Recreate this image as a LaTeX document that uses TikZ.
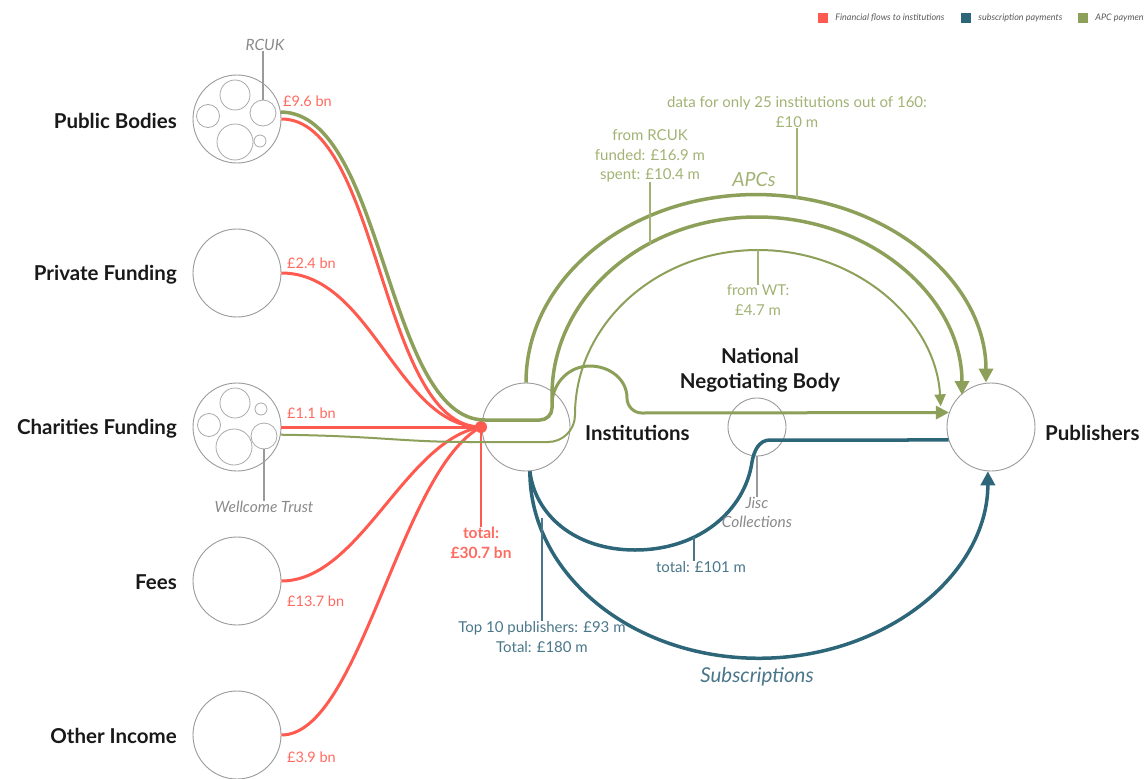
\documentclass[tikz,border=0pt]{standalone}
\usepackage{fontspec}
\setmainfont{Lato}
\usetikzlibrary{arrows.meta,positioning}

\definecolor{flowred}{HTML}{FF5A4F}
\definecolor{subblue}{HTML}{2D6579}
\definecolor{apcgreen}{HTML}{8DA05A}
\definecolor{apctext}{HTML}{A2B274}
\definecolor{bluetext}{HTML}{4A7689}
\definecolor{redtext}{HTML}{FF6A60}
\definecolor{ringgray}{HTML}{9A9A9A}
\definecolor{notegray}{HTML}{8A8A8A}

\tikzset{
    source/.style={circle, draw=ringgray, line width=0.9pt, minimum size=88pt, inner sep=0pt},
    part/.style={circle, draw=ringgray!85, line width=0.8pt, minimum size=#1, inner sep=0pt},
    head/.style={font=\fontsize{20.5}{25}\selectfont\bfseries, text=black!90, inner sep=0pt},
    amount/.style={font=\fontsize{14.5}{17}\selectfont, text=redtext, inner sep=0pt},
    note/.style={font=\fontsize{15}{19.5}\selectfont, align=center, inner sep=0pt},
    who/.style={font=\fontsize{15.5}{19}\selectfont\itshape, text=notegray, align=center, inner sep=0pt},
    flow/.style={draw=flowred, line width=3pt},
    apc/.style={draw=apcgreen, line width=3.5pt},
    subs/.style={draw=subblue, line width=3.5pt},
    tip/.style={-{Triangle[length=14pt,width=14pt]}},
    tick/.style={line width=1.2pt},
    legbox/.style={minimum size=10pt, inner sep=0pt},
    legtext/.style={font=\fontsize{9}{10}\selectfont\itshape, text=black!65, inner sep=0pt}
}

\begin{document}
\begin{tikzpicture}[x=1pt, y=-1pt]
    \useasboundingbox (0,0) rectangle (1144,779);

    \node[legbox, fill=flowred] (legred) at (823,18) {};
    \node[legtext, right=7pt of legred] {Financial flows to institutions};
    \node[legbox, fill=subblue] (legblue) at (966,18) {};
    \node[legtext, right=7pt of legblue] {subscription payments};
    \node[legbox, fill=apcgreen] (leggreen) at (1083,18) {};
    \node[legtext, right=7pt of leggreen] {APC payments};

    \node[source] (pb) at (237,119) {};
    \node[source] (pf) at (237,273) {};
    \node[source] (cf) at (237,427) {};
    \node[source] (fees) at (237,581) {};
    \node[source] (oi) at (237,735) {};

    \node[part=30pt] (pb1) at (235,95) {};
    \node[part=23pt] (pb2) at (208,116) {};
    \node[part=26pt] (pb3) at (263,113) {};
    \node[part=36pt] (pb4) at (235,142) {};
    \node[part=12pt] (pb5) at (260,141) {};

    \node[part=30pt] (cf1) at (235,403) {};
    \node[part=12pt] (cf2) at (261,409) {};
    \node[part=23pt] (cf3) at (209,425) {};
    \node[part=26pt] (cf4) at (264,436) {};
    \node[part=36pt] (cf5) at (234,447) {};

    \node[head, anchor=east] at (177,121) {Public Bodies};
    \node[head, anchor=east] at (177,275) {Private Funding};
    \node[head, anchor=east] at (177,429) {Charities Funding};
    \node[head, anchor=east] at (177,582) {Fees};
    \node[head, anchor=east] at (177,736) {Other Income};

    \node[who] (rcuk) at (265,45) {RCUK};
    \draw[ringgray, tick] (pb3.north |- rcuk.south) -- (pb3.north);
    \node[who] (wellcome) at (264,507) {Wellcome Trust};
    \draw[ringgray, tick] (cf4.south) -- (cf4.south |- wellcome.north);

    \node[amount, anchor=west] at (283,101) {£9.6 bn};
    \node[amount, anchor=west] at (287,263) {£2.4 bn};
    \node[amount, anchor=west] at (287,413) {£1.1 bn};
    \node[amount, anchor=west] at (287,601) {£13.7 bn};
    \node[amount, anchor=west] at (287,757) {£3.9 bn};

    \node[source] (inst) at (526,427) {};
    \node[source] (pub) at (991,427) {};
    \node[circle, draw=ringgray, line width=0.9pt, minimum size=58pt, inner sep=0pt] (nnb) at (757,427) {};
    \node[head, anchor=west] at (585,433) {Institutions};
    \node[head, anchor=west] at (1045,433) {Publishers};
    \node[head, align=center] at (760,370) {National\\Negotiating Body};

    \coordinate (hub) at (481,427);
    \draw[flow] (pb.east) .. controls (380,119) and (380,427) .. (hub);
    \draw[flow] (pf.east) .. controls (372,273) and (398,427) .. (hub);
    \draw[flow] (cf.east) -- (hub);
    \draw[flow] (fees.east) .. controls (360,581) and (405,440) .. (hub);
    \draw[flow] (oi.east) .. controls (360,735) and (400,470) .. (hub);
    \node[circle, fill=flowred, minimum size=12pt, inner sep=0pt] (dot) at (hub) {};
    \node[font=\fontsize{15.5}{20}\selectfont\bfseries, text=redtext, align=center, inner sep=0pt] (total) at (481,543) {total:\\£30.7 bn};
    \draw[flowred, tick] (dot) -- (total.north);

    \draw[apc, tip] (inst.north) arc[start angle=180, end angle=0, x radius=230pt, y radius=188pt];
    \draw[apc, tip] (pb.9) .. controls (385,113) and (385,420) .. (485,420) -- (540,420)
        arc[start angle=-90, end angle=0, radius=12pt] -- (552,395)
        arc[start angle=180, end angle=0, x radius=205pt, y radius=178pt];
    \draw[apc, line width=2pt, -{Triangle[length=12pt,width=11pt]}] (cf.-10) .. controls (380,436) and (400,442) .. (470,442) -- (548,442)
        arc[start angle=-90, end angle=0, radius=27pt]
        arc[start angle=180, end angle=3, x radius=183pt, y radius=165pt];
    \draw[apc, line width=3pt, -{Triangle[length=13pt,width=13pt]}] (552,402) to[out=85, in=180] (590,366)
        to[out=0, in=90] (627,398) to[out=-90, in=180] (642,413) -- (pub.161);

    \draw[subs] (inst.-85) .. controls (535,515) and (575,550) .. (635,550)
        .. controls (700,550) and (745,510) .. (752,462) to[out=80, in=180] (770,440) -- (pub.-163);
    \draw[subs, tip] (inst.-85) arc[start angle=180, end angle=360, x radius=229pt, y radius=187pt];

    \node[who] (jisc) at (757,512) {Jisc\\Collections};
    \draw[ringgray, tick] (nnb.south) -- (jisc.north);

    \node[font=\fontsize{19.5}{22}\selectfont\itshape, text=apctext, inner sep=0pt] at (754,180) {APCs};
    \node[font=\fontsize{20.5}{24}\selectfont\itshape, text=bluetext, inner sep=0pt] at (757,677) {Subscriptions};

    \node[note, text=apctext] (only25) at (797,112) {data for only 25 institutions out of 160:\\£10 m};
    \coordinate (k10) at (797,198);
    \draw[apctext, tick] (only25.south) -- (k10);
    \node[note, text=apctext] (fromrc) at (650,156) {from RCUK\\funded: £16.9 m\\spent: £10.4 m};
    \coordinate (krc) at (650,244);
    \draw[apctext, tick] (fromrc.south) -- (krc);
    \node[note, text=apctext] (fromwt) at (758,300) {from WT:\\£4.7 m};
    \coordinate (kwt) at (758,250);
    \draw[apctext, tick] (kwt) -- (fromwt.north);

    \node[note, text=bluetext] (top10) at (542,637) {Top 10 publishers: £93 m\\Total: £180 m};
    \coordinate (ktop) at (542,518);
    \draw[bluetext, tick] (ktop) -- (top10.north);
    \node[note, text=bluetext] (t101) at (701,567) {total: £101 m};
    \coordinate (k101) at (694,537);
    \draw[bluetext, tick] (k101) -- (k101 |- t101.north);
\end{tikzpicture}
\end{document}
